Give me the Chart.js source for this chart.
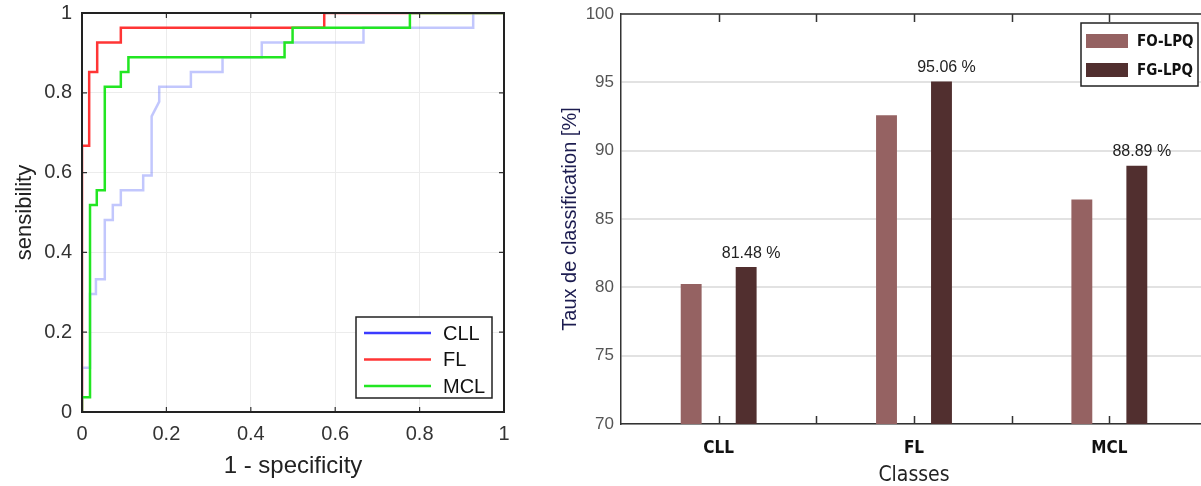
<!DOCTYPE html>
<html>
<head>
<meta charset="utf-8">
<script src="https://cdn.jsdelivr.net/npm/chart.js@4.4.1/dist/chart.umd.min.js"></script>
<style>
  html, body { margin: 0; padding: 0; background: #fff; overflow: hidden; }
  #wrap { position: relative; width: 1201px; height: 486px; overflow: hidden; }
  #rocBox { position: absolute; left: 0; top: 0; }
  #barBox { position: absolute; left: 520px; top: 0; }
</style>
</head>
<body>
<div id="wrap">
  <div id="rocBox"><canvas id="roc" width="530" height="486"></canvas></div>
  <div id="barBox"><canvas id="bars" width="687" height="486"></canvas></div>
</div>
<script>
// --- ROC curves: 1 - specificity (x) / sensibility (y)
const rocTicks = [0, 0.2, 0.4, 0.6, 0.8, 1];
const cllX = [0, 0, 0.019, 0.019, 0.033, 0.033, 0.054, 0.054, 0.073, 0.073, 0.092, 0.092, 0.145, 0.145, 0.165, 0.165, 0.183, 0.183, 0.258, 0.258, 0.333, 0.333, 0.426, 0.426, 0.667, 0.667, 0.927, 0.927, 1];
const cllY = [0, 0.111, 0.111, 0.296, 0.296, 0.333, 0.333, 0.481, 0.481, 0.519, 0.519, 0.556, 0.556, 0.593, 0.593, 0.741, 0.778, 0.815, 0.815, 0.852, 0.852, 0.889, 0.889, 0.926, 0.926, 0.963, 0.963, 1, 1];
const flX = [0, 0, 0.017, 0.017, 0.036, 0.036, 0.092, 0.092, 0.574, 0.574, 1];
const flY = [0, 0.667, 0.667, 0.852, 0.852, 0.926, 0.926, 0.963, 0.963, 1, 1];
const mclX = [0, 0, 0.019, 0.019, 0.035, 0.035, 0.054, 0.054, 0.092, 0.092, 0.11, 0.11, 0.48, 0.48, 0.499, 0.499, 0.777, 0.777, 1];
const mclY = [0, 0.037, 0.037, 0.519, 0.519, 0.556, 0.556, 0.815, 0.815, 0.852, 0.852, 0.889, 0.889, 0.926, 0.926, 0.963, 0.963, 1, 1];

// --- classification rates
const classes = ['CLL', 'FL', 'MCL'];
const foLpq = [80.25, 92.59, 86.42];
const fgLpq = [81.48, 95.06, 88.89];
const rateTicks = [70, 75, 80, 85, 90, 95, 100];

const NARROW = "'Liberation Sans Narrow', 'DejaVu Sans Condensed', Arial, sans-serif";
const ARIAL = "Arial, 'Liberation Sans', sans-serif";

const zip = (xs, ys) => xs.map((x, i) => ({ x, y: ys[i] }));
const noPad = s => { s.paddingTop = 0; s.paddingBottom = 0; s.paddingLeft = 0; s.paddingRight = 0; };

// frame, inward ticks and legend box for the ROC plot
const rocFrame = {
  id: 'rocFrame',
  afterDraw(chart) {
    const { ctx, chartArea: a, scales } = chart;
    ctx.save();
    ctx.strokeStyle = '#333';
    ctx.lineWidth = 1.2;
    ctx.beginPath();
    rocTicks.forEach(v => {
      const px = scales.x.getPixelForValue(v);
      const py = scales.y.getPixelForValue(v);
      ctx.moveTo(px, a.top); ctx.lineTo(px, a.top + 5);
      ctx.moveTo(px, a.bottom); ctx.lineTo(px, a.bottom - 5);
      ctx.moveTo(a.left, py); ctx.lineTo(a.left + 5, py);
      ctx.moveTo(a.right, py); ctx.lineTo(a.right - 5, py);
    });
    ctx.stroke();
    ctx.strokeStyle = '#222';
    ctx.lineWidth = 2;
    ctx.strokeRect(a.left, a.top, a.right - a.left, a.bottom - a.top);

    // legend
    const w = 136, h = 81;
    const bx = a.right - 12 - w, by = a.bottom - 14 - h;
    ctx.fillStyle = '#fff';
    ctx.fillRect(bx, by, w, h);
    ctx.strokeStyle = '#222';
    ctx.lineWidth = 1.5;
    ctx.strokeRect(bx, by, w, h);
    ctx.font = '20px ' + ARIAL;
    ctx.textBaseline = 'middle';
    chart.data.datasets.forEach((ds, i) => {
      const y = by + 16 + i * 26.5;
      ctx.strokeStyle = ds.legendColor;
      ctx.lineWidth = 2.5;
      ctx.beginPath();
      ctx.moveTo(bx + 8, y); ctx.lineTo(bx + 75, y);
      ctx.stroke();
      ctx.fillStyle = '#111';
      ctx.fillText(ds.label, bx + 87, y + 1);
    });
    ctx.restore();
  }
};

new Chart(document.getElementById('roc'), {
  type: 'line',
  data: {
    datasets: [
      { label: 'CLL', data: zip(cllX, cllY), borderColor: 'rgba(120,130,250,0.45)', legendColor: '#3b3bff', order: 3 },
      { label: 'FL', data: zip(flX, flY), borderColor: '#ff3535', legendColor: '#ff3535', order: 2 },
      { label: 'MCL', data: zip(mclX, mclY), borderColor: '#22e622', legendColor: '#22e622', order: 1 }
    ]
  },
  options: {
    responsive: false,
    animation: false,
    devicePixelRatio: 1,
    layout: { padding: { top: 13, right: 26, left: 0, bottom: 0 } },
    elements: {
      line: { borderWidth: 2.5, tension: 0, fill: false },
      point: { radius: 0 }
    },
    plugins: { legend: { display: false }, tooltip: { enabled: false } },
    scales: {
      x: {
        type: 'linear', min: 0, max: 1,
        afterFit: s => { s.height = 74; noPad(s); },
        afterBuildTicks: s => { s.ticks = rocTicks.map(v => ({ value: v })); },
        ticks: { callback: v => String(+v.toFixed(1)), font: { family: ARIAL, size: 20 }, color: '#333', padding: 10, maxRotation: 0 },
        grid: { color: '#ececec', drawTicks: false },
        border: { display: false },
        title: { display: true, text: '1 - specificity', font: { family: ARIAL, size: 24 }, color: '#222', padding: { top: 0, bottom: 5 } }
      },
      y: {
        type: 'linear', min: 0, max: 1,
        afterFit: s => { s.width = 82; noPad(s); },
        afterBuildTicks: s => { s.ticks = rocTicks.map(v => ({ value: v })); },
        ticks: { callback: v => String(+v.toFixed(1)), font: { family: ARIAL, size: 20 }, color: '#333', padding: 10 },
        grid: { color: '#ececec', drawTicks: false },
        border: { display: false },
        title: { display: true, text: 'sensibility', font: { family: ARIAL, size: 22 }, color: '#222', padding: { top: 12, bottom: 0 } }
      }
    }
  },
  plugins: [rocFrame]
});

// top border, inward ticks, value labels and legend for the bar plot
const barExtras = {
  id: 'barExtras',
  afterDraw(chart) {
    const { ctx, chartArea: a, scales } = chart;
    ctx.save();
    ctx.strokeStyle = '#333';
    ctx.lineWidth = 1.5;
    ctx.beginPath();
    ctx.moveTo(a.left, a.top); ctx.lineTo(a.right, a.top);
    for (let v = 0; v <= 2.01; v += 0.5) {
      const px = Math.round(scales.x.getPixelForValue(v)) + 0.5;
      ctx.moveTo(px, a.bottom); ctx.lineTo(px, a.bottom - 8);
      ctx.moveTo(px, a.top); ctx.lineTo(px, a.top + 8);
    }
    ctx.stroke();

    // value labels above FG-LPQ bars
    const meta = chart.getDatasetMeta(1);
    ctx.font = '16px ' + ARIAL;
    ctx.fillStyle = '#222';
    ctx.textAlign = 'center';
    ctx.textBaseline = 'bottom';
    meta.data.forEach((bar, i) => {
      ctx.fillText(fgLpq[i].toFixed(2) + ' %', bar.x + 5, bar.y - 6);
    });

    // legend
    const w = 117, h = 63;
    const bx = a.right - 9 - w, by = a.top + 9;
    ctx.fillStyle = '#fff';
    ctx.fillRect(bx, by, w, h);
    ctx.strokeStyle = '#222';
    ctx.lineWidth = 1.5;
    ctx.strokeRect(bx, by, w, h);
    ctx.font = 'bold 15px ' + NARROW;
    ctx.textAlign = 'left';
    ctx.textBaseline = 'middle';
    chart.data.datasets.forEach((ds, i) => {
      const y = by + 18 + i * 29;
      ctx.fillStyle = ds.backgroundColor;
      ctx.fillRect(bx + 5, y - 7, 42, 14);
      ctx.fillStyle = '#111';
      ctx.fillText(ds.label, bx + 56, y + 1);
    });
    ctx.restore();
  }
};

new Chart(document.getElementById('bars'), {
  type: 'bar',
  data: {
    labels: classes,
    datasets: [
      { label: 'FO-LPQ', data: foLpq, backgroundColor: '#956262' },
      { label: 'FG-LPQ', data: fgLpq, backgroundColor: '#512f2f' }
    ]
  },
  options: {
    responsive: false,
    animation: false,
    devicePixelRatio: 1,
    layout: { padding: { top: 14, right: 0, left: 0, bottom: 0 } },
    categoryPercentage: 0.563,
    barPercentage: 0.38,
    plugins: { legend: { display: false }, tooltip: { enabled: false } },
    scales: {
      x: {
        type: 'category', offset: true,
        afterFit: s => { s.height = 62; noPad(s); },
        ticks: { font: { family: NARROW, size: 17, weight: 'bold' }, color: '#111', padding: 6 },
        grid: { display: false },
        border: { display: true, color: '#333', width: 1.5 },
        title: { display: true, text: 'Classes', font: { family: NARROW, size: 21, lineHeight: 1 }, color: '#222', padding: { top: 0, bottom: 0 } }
      },
      y: {
        min: 70, max: 100,
        afterFit: s => { s.width = 101; noPad(s); },
        afterBuildTicks: s => { s.ticks = rateTicks.map(v => ({ value: v })); },
        ticks: { font: { family: ARIAL, size: 17 }, color: '#555', padding: 7 },
        grid: { color: '#e2e2e2', lineWidth: 2, drawTicks: false },
        border: { display: true, color: '#333', width: 1.5 },
        title: { display: true, text: 'Taux de classification [%]', font: { family: ARIAL, size: 20 }, color: '#1c1c50', padding: { top: 38, bottom: 0 } }
      }
    }
  },
  plugins: [barExtras]
});
</script>
</body>
</html>
